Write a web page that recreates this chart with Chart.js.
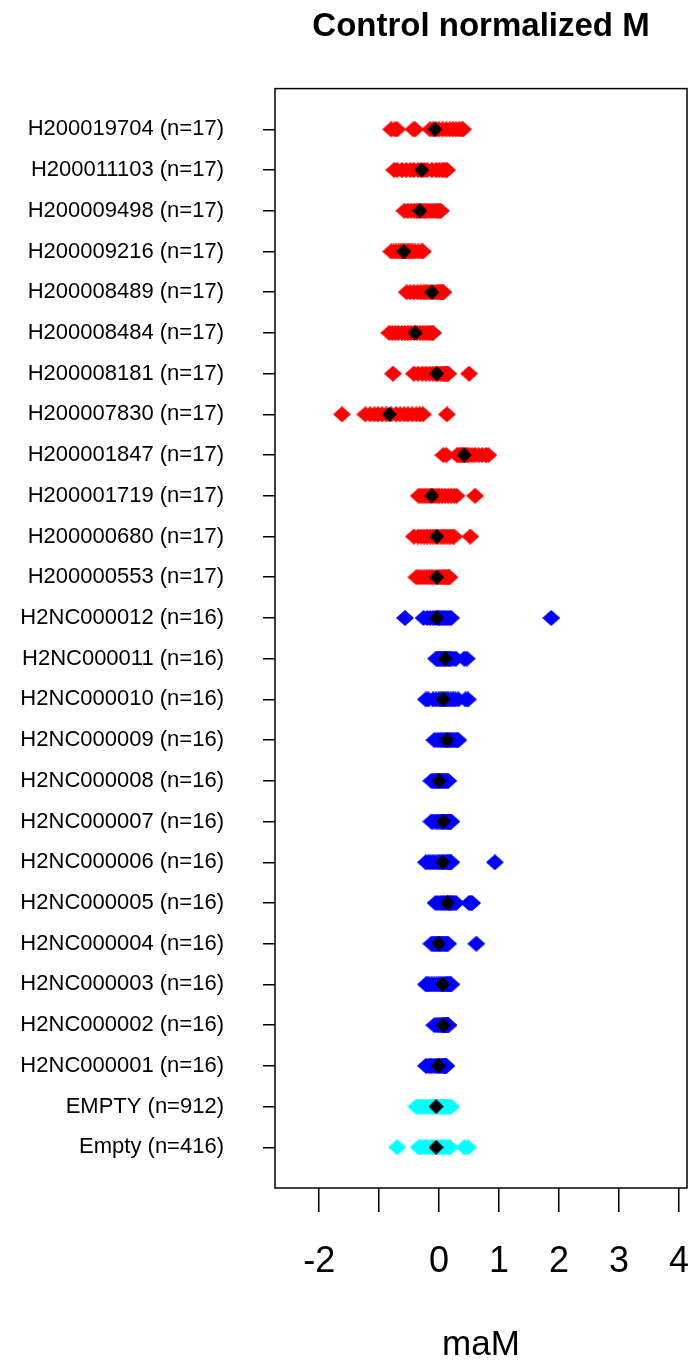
<!DOCTYPE html>
<html><head><meta charset="utf-8">
<script src="https://cdn.jsdelivr.net/npm/chart.js@4/dist/chart.umd.min.js"></script>
<style>html,body{margin:0;padding:0;background:#fff}canvas{display:block}</style>
</head><body>
<canvas id="c" width="690" height="1366"></canvas>
<script>
const categories = [
  "H200019704 (n=17)", "H200011103 (n=17)", "H200009498 (n=17)", "H200009216 (n=17)",
  "H200008489 (n=17)", "H200008484 (n=17)", "H200008181 (n=17)", "H200007830 (n=17)",
  "H200001847 (n=17)", "H200001719 (n=17)", "H200000680 (n=17)", "H200000553 (n=17)",
  "H2NC000012 (n=16)", "H2NC000011 (n=16)", "H2NC000010 (n=16)", "H2NC000009 (n=16)",
  "H2NC000008 (n=16)", "H2NC000007 (n=16)", "H2NC000006 (n=16)", "H2NC000005 (n=16)",
  "H2NC000004 (n=16)", "H2NC000003 (n=16)", "H2NC000002 (n=16)", "H2NC000001 (n=16)",
  "EMPTY (n=912)", "Empty (n=416)"
];

const H200019704 = [-0.80, -0.74, -0.70, -0.43, -0.40, -0.15, -0.10, -0.05, 0.0, 0.06, 0.12, 0.18, 0.23, 0.28, 0.33, 0.37, 0.40];
const H200011103 = [-0.75, -0.70, -0.62, -0.55, -0.48, -0.42, -0.35, -0.30, -0.25, -0.20, -0.12, -0.05, 0.0, 0.05, 0.08, 0.12, 0.13];
const H200009498 = [-0.58, -0.52, -0.47, -0.42, -0.38, -0.35, -0.32, -0.28, -0.25, -0.22, -0.18, -0.14, -0.10, -0.06, -0.03, 0.0, 0.03];
const H200009216 = [-0.80, -0.76, -0.72, -0.68, -0.65, -0.62, -0.60, -0.57, -0.55, -0.52, -0.50, -0.47, -0.44, -0.40, -0.35, -0.30, -0.27];
const H200008489 = [-0.54, -0.48, -0.42, -0.36, -0.31, -0.26, -0.22, -0.18, -0.14, -0.10, -0.06, -0.03, 0.0, 0.02, 0.04, 0.06, 0.07];
const H200008484 = [-0.83, -0.78, -0.73, -0.68, -0.62, -0.57, -0.52, -0.47, -0.42, -0.37, -0.32, -0.27, -0.23, -0.19, -0.15, -0.12, -0.10];
const H200008181 = [-0.77, -0.42, -0.35, -0.28, -0.22, -0.16, -0.10, -0.05, -0.02, 0.02, 0.05, 0.08, 0.10, 0.12, 0.14, 0.15, 0.50];
const H200007830 = [-1.62, -1.23, -1.15, -1.08, -1.02, -0.95, -0.88, -0.80, -0.72, -0.65, -0.58, -0.52, -0.45, -0.38, -0.32, -0.27, 0.13];
const H200001847 = [0.07, 0.12, 0.30, 0.33, 0.36, 0.38, 0.40, 0.42, 0.44, 0.46, 0.50, 0.55, 0.60, 0.66, 0.72, 0.78, 0.82];
const H200001719 = [-0.34, -0.30, -0.26, -0.22, -0.18, -0.15, -0.12, -0.08, -0.04, 0.0, 0.05, 0.10, 0.15, 0.20, 0.25, 0.29, 0.60];
const H200000680 = [-0.42, -0.35, -0.30, -0.25, -0.20, -0.15, -0.10, -0.06, -0.02, 0.02, 0.06, 0.10, 0.14, 0.18, 0.22, 0.25, 0.52];
const H200000553 = [-0.38, -0.34, -0.30, -0.25, -0.20, -0.16, -0.12, -0.08, -0.04, 0.0, 0.03, 0.06, 0.09, 0.12, 0.14, 0.16, 0.17];
const H2NC000012 = [-0.57, -0.26, -0.20, -0.15, -0.10, -0.06, -0.02, 0.0, 0.02, 0.05, 0.08, 0.11, 0.14, 0.17, 0.20, 1.87];
const H2NC000011 = [-0.05, -0.02, 0.0, 0.03, 0.05, 0.08, 0.10, 0.12, 0.14, 0.16, 0.18, 0.20, 0.24, 0.28, 0.42, 0.46];
const H2NC000010 = [-0.22, -0.18, -0.10, -0.05, 0.0, 0.03, 0.06, 0.09, 0.12, 0.15, 0.19, 0.23, 0.27, 0.32, 0.44, 0.48];
const H2NC000009 = [-0.08, -0.04, 0.0, 0.03, 0.06, 0.09, 0.11, 0.13, 0.15, 0.17, 0.19, 0.22, 0.25, 0.28, 0.30, 0.32];
const H2NC000008 = [-0.13, -0.10, -0.08, -0.06, -0.04, -0.02, 0.0, 0.01, 0.02, 0.04, 0.06, 0.08, 0.10, 0.12, 0.14, 0.15];
const H2NC000007 = [-0.13, -0.10, -0.06, -0.03, 0.0, 0.03, 0.05, 0.07, 0.09, 0.11, 0.13, 0.15, 0.17, 0.18, 0.19, 0.20];
const H2NC000006 = [-0.22, -0.18, -0.14, -0.10, -0.06, -0.02, 0.01, 0.04, 0.07, 0.10, 0.13, 0.15, 0.17, 0.19, 0.20, 0.93];
const H2NC000005 = [-0.06, -0.02, 0.02, 0.05, 0.08, 0.11, 0.14, 0.16, 0.18, 0.20, 0.22, 0.25, 0.28, 0.50, 0.53, 0.55];
const H2NC000004 = [-0.13, -0.10, -0.08, -0.06, -0.04, -0.02, 0.0, 0.01, 0.03, 0.05, 0.07, 0.09, 0.11, 0.13, 0.15, 0.62];
const H2NC000003 = [-0.22, -0.19, -0.16, -0.12, -0.08, -0.04, 0.0, 0.03, 0.06, 0.09, 0.11, 0.13, 0.15, 0.17, 0.19, 0.20];
const H2NC000002 = [-0.08, -0.04, -0.01, 0.02, 0.04, 0.06, 0.07, 0.08, 0.09, 0.10, 0.11, 0.12, 0.13, 0.14, 0.15, 0.15];
const H2NC000001 = [-0.22, -0.18, -0.15, -0.12, -0.08, -0.05, -0.02, 0.0, 0.02, 0.04, 0.06, 0.08, 0.09, 0.10, 0.11, 0.12];
const EMPTY_912 = [-0.38, -0.34, -0.30, -0.26, -0.22, -0.18, -0.14, -0.10, -0.07, -0.04, -0.01, 0.02, 0.05, 0.08, 0.11, 0.14, 0.17, 0.20];
const Empty_416 = [-0.70, -0.34, -0.30, -0.25, -0.20, -0.15, -0.10, -0.06, -0.02, 0.02, 0.06, 0.10, 0.14, 0.18, 0.42, 0.48];

const centerValues = [-0.07, -0.29, -0.32, -0.59, -0.12, -0.40, -0.04, -0.83, 0.42, -0.12, -0.04, -0.04,
  -0.04, 0.10, 0.07, 0.13, 0.00, 0.07, 0.06, 0.14, -0.01, 0.06, 0.07, -0.01, -0.05, -0.05];

const redRows = [H200019704, H200011103, H200009498, H200009216, H200008489, H200008484,
  H200008181, H200007830, H200001847, H200001719, H200000680, H200000553];
const blueRows = [H2NC000012, H2NC000011, H2NC000010, H2NC000009, H2NC000008, H2NC000007,
  H2NC000006, H2NC000005, H2NC000004, H2NC000003, H2NC000002, H2NC000001];
const cyanRows = [EMPTY_912, Empty_416];

const xTickValues = [-2, -1, 0, 1, 2, 3, 4];
const xTickLabels = ["-2", "", "0", "1", "2", "3", "4"];

const N = categories.length;
function rowsToPoints(rows, startIndex) {
  const pts = [];
  rows.forEach((vals, k) => {
    const yv = N - (startIndex + k);
    vals.forEach(v => pts.push({x: v, y: yv}));
  });
  return pts;
}

// diamond marker images (R pch 18 look)
function diamond(color, w, h) {
  const c = document.createElement('canvas');
  c.width = w; c.height = h;
  const g = c.getContext('2d');
  g.fillStyle = color;
  g.beginPath();
  g.moveTo(w / 2, 0); g.lineTo(w, h / 2); g.lineTo(w / 2, h); g.lineTo(0, h / 2);
  g.closePath(); g.fill();
  return c;
}

Chart.defaults.font.family = "'Liberation Sans', Arial, Helvetica, sans-serif";
Chart.defaults.color = '#000';

const boxPlugin = {
  id: 'box',
  afterDatasetsDraw(chart) {
    const {ctx, chartArea: a} = chart;
    ctx.save();
    ctx.strokeStyle = '#000';
    ctx.lineWidth = 1.5;
    ctx.strokeRect(a.left, a.top, a.right - a.left, a.bottom - a.top);
    ctx.restore();
  }
};

new Chart(document.getElementById('c'), {
  type: 'scatter',
  data: {
    datasets: [
      { label: 'center', data: centerValues.map((v, i) => ({x: v, y: N - i})),
        pointStyle: diamond('#000000', 15, 15), pointRadius: 7, borderWidth: 0, backgroundColor: '#000000' },
      { label: 'H2000', data: rowsToPoints(redRows, 0),
        pointStyle: diamond('#FF0000', 18, 16), pointRadius: 8, borderWidth: 0, backgroundColor: '#FF0000' },
      { label: 'H2NC', data: rowsToPoints(blueRows, 12),
        pointStyle: diamond('#0000FF', 18, 16), pointRadius: 8, borderWidth: 0, backgroundColor: '#0000FF' },
      { label: 'Empty', data: rowsToPoints(cyanRows, 24),
        pointStyle: diamond('#00FFFF', 18, 16), pointRadius: 8, borderWidth: 0, backgroundColor: '#00FFFF' }
    ]
  },
  options: {
    responsive: false,
    animation: false,
    devicePixelRatio: 1,
    layout: { autoPadding: false, padding: { left: 0, right: 3, top: 0, bottom: 0 } },
    plugins: {
      legend: { display: false },
      tooltip: { enabled: false },
      title: {
        display: true, text: 'Control normalized M', fullSize: false,
        font: { size: 33, weight: 'bold' }, color: '#000',
        padding: { top: 7, bottom: 42 }
      }
    },
    scales: {
      x: {
        type: 'linear', min: -2.737, max: 4.134,
        afterBuildTicks: s => { s.ticks = xTickValues.map(v => ({value: v})); },
        afterFit: s => { s.height = 178; s.paddingLeft = 0; s.paddingRight = 0; },
        grid: { display: true, drawOnChartArea: false, drawTicks: true, tickLength: 24, color: '#000', lineWidth: 1.5 },
        border: { display: false },
        ticks: {
          autoSkip: false, maxRotation: 0, padding: 28, color: '#000',
          font: { size: 36 },
          callback: (v) => { const i = xTickValues.indexOf(v); return i >= 0 ? xTickLabels[i] : ''; }
        },
        title: { display: true, text: 'maM', font: { size: 35 }, color: '#000', padding: 0 }
      },
      y: {
        type: 'linear', min: 0, max: 27,
        afterBuildTicks: s => { s.ticks = categories.map((c, i) => ({value: N - i})); },
        afterFit: s => { s.width = 275; s.paddingTop = 0; s.paddingBottom = 0; },
        grid: { display: true, drawOnChartArea: false, drawTicks: true, tickLength: 12, color: '#000', lineWidth: 1.5 },
        border: { display: false },
        ticks: {
          autoSkip: false, padding: 39, color: '#000',
          font: { size: 22 },
          callback: (v) => categories[N - v]
        }
      }
    }
  },
  plugins: [boxPlugin]
});
</script>
</body></html>
